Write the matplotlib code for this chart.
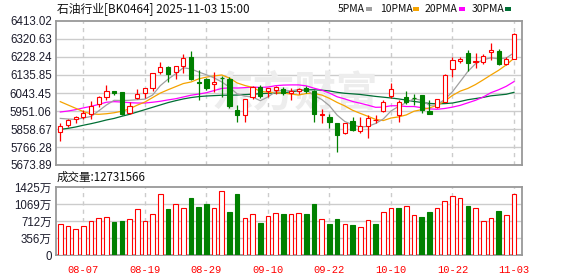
import matplotlib
matplotlib.use("Agg")
import matplotlib.pyplot as plt
from matplotlib.patches import Rectangle

# trading days shown (60 sessions)
dates = ["08-04", "08-05", "08-06", "08-07", "08-08", "08-11", "08-12", "08-13", "08-14", "08-15",
         "08-18", "08-19", "08-20", "08-21", "08-22", "08-25", "08-26", "08-27", "08-28", "08-29",
         "09-01", "09-02", "09-03", "09-04", "09-05", "09-08", "09-09", "09-10", "09-11", "09-12",
         "09-15", "09-16", "09-17", "09-18", "09-19", "09-22", "09-23", "09-24", "09-25", "09-26",
         "09-29", "09-30", "10-09", "10-10", "10-13", "10-14", "10-15", "10-16", "10-17", "10-20",
         "10-21", "10-22", "10-23", "10-24", "10-27", "10-28", "10-29", "10-30", "10-31", "11-03"]

opens = [5841.6, 5879.2, 5908.3, 5922.0, 5933.9, 5987.0, 6024.6, 6053.7, 6048.5, 5939.0,
         6019.5, 6045.0, 6067.4, 6149.5, 6176.9, 6149.5, 6182.0, 6226.5, 6101.6, 6113.6,
         6088.0, 6118.7, 6115.3, 5956.2, 5932.2, 6021.2, 6075.9, 6052.0, 6057.0, 6065.7,
         6045.2, 6052.0, 6069.0, 6055.4, 5928.0, 5922.0, 5887.7, 5839.8, 5899.7, 5850.1,
         5875.7, 5903.1, 5952.7, 6029.7, 5930.5, 6021.2, 6016.0, 6033.1, 5952.7, 5973.3,
         5998.9, 6164.9, 6206.0, 6247.0, 6202.6, 6204.3, 6255.6, 6260.7, 6190.6, 6216.3]
highs = [5887.7, 5910.0, 5923.7, 5956.0, 6004.0, 6028.0, 6084.5, 6055.0, 6048.5, 5999.0,
         6062.0, 6070.8, 6147.8, 6202.6, 6183.7, 6183.7, 6241.9, 6259.0, 6161.5, 6118.7,
         6149.5, 6130.7, 6123.8, 5981.8, 6014.4, 6079.4, 6082.8, 6070.8, 6079.4, 6075.9,
         6067.4, 6069.0, 6079.4, 6058.8, 5959.6, 5933.9, 5891.0, 5891.0, 5922.0, 5918.5,
         5930.5, 5930.5, 6007.5, 6093.0, 6007.5, 6053.7, 6036.6, 6034.9, 6007.5, 6014.3,
         6139.2, 6226.5, 6230.0, 6264.2, 6247.0, 6241.9, 6298.4, 6271.0, 6230.0, 6349.7]
lows = [5798.8, 5870.6, 5887.7, 5908.0, 5908.0, 5970.0, 6007.5, 6031.5, 5930.5, 5935.6,
        6012.6, 6016.0, 6055.4, 6142.7, 6098.2, 6113.6, 6147.8, 6110.0, 6007.5, 6058.8,
        6050.0, 6021.0, 5964.7, 5896.3, 5896.3, 6012.6, 6016.0, 6021.0, 6038.0, 6033.0,
        6007.5, 6038.0, 6045.2, 5896.3, 5887.7, 5865.5, 5738.9, 5833.0, 5850.0, 5839.8,
        5810.7, 5887.7, 5947.6, 6016.0, 5896.3, 5985.2, 5981.8, 5942.5, 5933.9, 5964.7,
        5995.5, 6127.2, 6195.7, 6158.0, 6170.0, 6190.6, 6212.8, 6185.4, 6188.8, 6216.3]
closes = [5874.1, 5904.8, 5918.5, 5939.0, 5976.7, 6021.0, 6053.7, 6041.7, 5933.9, 5978.4,
          6038.3, 6067.4, 6144.4, 6176.9, 6141.0, 6180.3, 6221.4, 6113.6, 6096.5, 6070.8,
          6100.0, 6118.7, 5976.7, 5930.5, 6010.9, 6075.9, 6028.0, 6067.4, 6074.2, 6045.2,
          6055.4, 6065.7, 6055.4, 5933.9, 5936.0, 5896.3, 5827.8, 5887.7, 5853.5, 5875.7,
          5913.4, 5906.5, 5998.9, 6062.2, 5995.5, 5998.9, 6016.0, 5956.2, 5935.6, 6010.9,
          6135.8, 6212.8, 6216.3, 6195.7, 6207.7, 6235.0, 6264.2, 6190.6, 6216.3, 6344.6]

# volume in 万
volumes = [643, 601, 538, 601, 705, 768, 789, 691, 712, 747,
           964, 705, 852, 1271, 964, 1062, 978, 1194, 1006, 1069,
           978, 1334, 894, 1278, 768, 852, 671, 810, 887, 859,
           852, 873, 859, 1069, 754, 650, 754, 643, 629, 587,
           733, 650, 894, 978, 985, 1020, 838, 796, 901, 978,
           1131, 1236, 1187, 1027, 978, 705, 775, 922, 831, 1273]

ma5 = [5913, 5910, 5908, 5915, 5923, 5952, 5982, 6006, 6005, 6006,
       6009, 6012, 6033, 6081, 6114, 6142, 6173, 6167, 6151, 6137,
       6121, 6100, 6073, 6039, 6027, 6023, 6004, 6023, 6051, 6058,
       6054, 6062, 6059, 6031, 6010, 5978, 5930, 5897, 5881, 5869,
       5872, 5887, 5910, 5951, 5975, 5994, 6014, 6006, 5980, 5983,
       6011, 6050, 6102, 6154, 6194, 6214, 6224, 6219, 6223, 6250]
ma10 = [5999, 5982, 5965, 5948, 5936, 5934, 5937, 5942, 5950, 5962,
        5981, 5997, 6020, 6043, 6060, 6076, 6092, 6100, 6116, 6125,
        6131, 6136, 6120, 6095, 6082, 6072, 6052, 6048, 6045, 6043,
        6038, 6033, 6041, 6041, 6033, 6016, 5995, 5977, 5955, 5939,
        5924, 5908, 5902, 5915, 5921, 5931, 5950, 5958, 5967, 5980,
        6002, 6031, 6053, 6067, 6087, 6111, 6136, 6160, 6188, 6222]
ma20 = [5946, 5951, 5958, 5967, 5975, 5985, 5996, 5999, 5997, 5994,
        5992, 5992, 5996, 6001, 6008, 6014, 6023, 6032, 6038, 6045,
        6056, 6067, 6070, 6069, 6071, 6074, 6072, 6074, 6081, 6084,
        6085, 6085, 6080, 6068, 6058, 6043, 6024, 6013, 6000, 5991,
        5981, 5970, 5971, 5978, 5978, 5974, 5974, 5968, 5962, 5960,
        5964, 5971, 5980, 5993, 6006, 6023, 6045, 6060, 6078, 6102]
ma30 = [5857, 5862, 5869, 5878, 5886, 5895, 5905, 5913, 5924, 5934,
        5946, 5958, 5970, 5982, 5994, 6004, 6013, 6020, 6025, 6028,
        6030, 6032, 6032, 6033, 6035, 6037, 6040, 6042, 6043, 6044,
        6050, 6055, 6060, 6060, 6058, 6054, 6047, 6042, 6039, 6036,
        6031, 6026, 6022, 6018, 6013, 6007, 6000, 5995, 5990, 5988,
        5989, 5992, 6000, 6009, 6015, 6021, 6029, 6033, 6037, 6047]

price_ticks = [5673.89, 5766.28, 5858.67, 5951.06, 6043.45, 6135.85, 6228.24, 6320.63, 6413.02]
vol_ticks = [0, 356, 712, 1069, 1425]
vol_tick_labels = ["0", "356万", "712万", "1069万", "1425万"]
date_ticks = ["08-07", "08-19", "08-29", "09-10", "09-22", "10-10", "10-22", "11-03"]

title = "石油行业[BK0464] 2025-11-03 15:00"
vol_title = "成交量:12731566"
ma_names = ["5PMA", "10PMA", "20PMA", "30PMA"]

RED = "#ff0000"
GREEN = "#008000"
MA_COLORS = ["#a0a0a0", "#f5a300", "#ff00ff", "#006f35"]
GRID = "#cccccc"
SPINE = "#999999"
LABEL = "#1c1c2c"
CJK = ["Noto Sans CJK SC", "DejaVu Sans"]
NUM = ["Liberation Sans", "Noto Sans CJK SC"]

W, H = 578, 276
fig = plt.figure(figsize=(W / 100, H / 100), dpi=100)
fig.patch.set_facecolor("white")


def px_box(left, top, right, bottom):
    return [left / W, 1 - bottom / H, (right - left) / W, (bottom - top) / H]


ax = fig.add_axes(px_box(56, 21, 522, 165))
axv = fig.add_axes(px_box(56, 187, 522, 255))

n = len(dates)
xs = list(range(n))
tick_pos = [dates.index(d) for d in date_ticks]

for a in (ax, axv):
    a.set_xlim(-0.56, 60.04)
    for s in a.spines.values():
        s.set_color(SPINE)
        s.set_linewidth(1.3)
    a.set_xticks(tick_pos)
    a.tick_params(length=0)
    for p in tick_pos:
        a.axvline(p, color=GRID, lw=1.0, ls=(0, (3, 3)), zorder=0)

# price panel
ax.set_ylim(price_ticks[0], price_ticks[-1])
ax.set_yticks(price_ticks)
ax.set_yticklabels([f"{t:.2f}" for t in price_ticks], family=NUM, fontsize=8.3, color=LABEL)
ax.tick_params(axis="y", pad=3)
ax.tick_params(axis="x", labelbottom=False)
for t in price_ticks[1:-1]:
    ax.axhline(t, color=GRID, lw=1.0, zorder=0)

ax.text(0.513, 0.5, "东方财富", transform=ax.transAxes, ha="center", va="center",
        fontsize=30, fontweight="bold", color="#ededed", family=CJK, zorder=0.5)

for ma, c in zip([ma30, ma20, ma10, ma5], MA_COLORS[::-1]):
    ax.plot(xs, ma, color=c, lw=0.9, zorder=2)

bw = 0.55
for i in xs:
    o, h, l, c = opens[i], highs[i], lows[i], closes[i]
    up = c > o
    col = RED if up else GREEN
    ax.vlines(i, l, h, color=col, lw=0.9, zorder=3)
    if abs(c - o) < 1e-6:
        ax.hlines(o, i - bw / 2, i + bw / 2, color=col, lw=0.9, zorder=4)
    else:
        ax.add_patch(Rectangle((i - bw / 2, min(o, c)), bw, abs(c - o),
                               facecolor="white" if up else GREEN, edgecolor=col,
                               lw=0.8, zorder=4))

# volume panel
axv.set_ylim(0, vol_ticks[-1])
axv.set_yticks(vol_ticks)
axv.set_yticklabels(vol_tick_labels, family=NUM, fontsize=8.3, color=LABEL)
axv.tick_params(axis="y", pad=3)
axv.set_xticklabels(date_ticks, family="Liberation Mono", fontsize=7.5, color=RED)
axv.tick_params(axis="x", pad=7)
for t in vol_ticks[1:-1]:
    axv.axhline(t, color=GRID, lw=1.0, zorder=0)

for i in xs:
    prev = closes[i - 1] if i > 0 else opens[i]
    up = closes[i] >= prev
    axv.bar(i, volumes[i], width=0.6, facecolor="white" if up else GREEN,
            edgecolor=RED if up else GREEN, lw=0.8, zorder=3)

# header texts
fig.text(57 / W, 1 - 9 / H, title, family=CJK, fontsize=8.5, color="#111111",
         ha="left", va="center")
fig.text(57 / W, 1 - 177 / H, vol_title, family=CJK, fontsize=8.3, color="#111111",
         ha="left", va="center")

legend_x = [338, 380, 425, 472]
square_x = [366, 413, 459, 505]
for name, c, tx, sx in zip(ma_names, MA_COLORS, legend_x, square_x):
    fig.text(tx / W, 1 - 9 / H, name, family=CJK, fontsize=7.5, color="#111111",
             ha="left", va="center")
    fig.patches.append(Rectangle((sx / W, 1 - 11 / H), 6 / W, 4 / H, transform=fig.transFigure,
                                 facecolor=c, edgecolor="none", figure=fig))

fig.savefig("out.png", dpi=100, facecolor="white")
